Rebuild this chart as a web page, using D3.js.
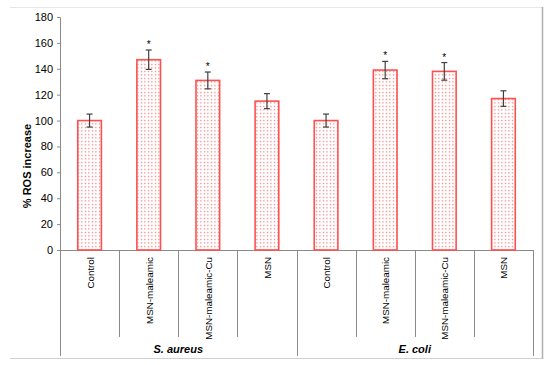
<!DOCTYPE html>
<html><head><meta charset="utf-8">
<script src="https://cdn.jsdelivr.net/npm/d3@7"></script>
<style>body{margin:0;background:#fff}svg{display:block}</style>
</head><body>
<svg id="c" width="550" height="365"></svg>
<script>
const categories = ["Control","MSN-maleamic","MSN-maleamic-Cu","MSN","Control","MSN-maleamic","MSN-maleamic-Cu","MSN"];
const groups = ["S. aureus","E. coli"];
const values = [100,147,131,115,100,139,138,117];
const errors = [5,7.5,6.5,5.8,5,6.7,6.8,6];
const significant = [false,true,true,false,false,true,true,false];
const yTicks = [0,20,40,60,80,100,120,140,160,180];

(function(){
const svg = d3.select("#c");
const mL=60,mR=533,mT=17,mB=250;

// pattern
const defs = svg.append("defs");
const pat = defs.append("pattern").attr("id","dots").attr("patternUnits","userSpaceOnUse")
  .attr("width",3.5).attr("height",3.5);
pat.append("rect").attr("width",3.5).attr("height",3.5).attr("fill","#fff");
pat.append("rect").attr("x",0.8).attr("y",0.8).attr("width",1.2).attr("height",1.2).attr("fill","#f26a6a");

// frame
svg.append("line").attr("x1",10).attr("x2",543).attr("y1",7.5).attr("y2",7.5).attr("stroke","#e6e6e6");
svg.append("line").attr("x1",10).attr("x2",543).attr("y1",358.5).attr("y2",358.5).attr("stroke","#d0d0d0");
svg.append("line").attr("x1",542.5).attr("x2",542.5).attr("y1",7).attr("y2",359).attr("stroke","#b0b0b0").attr("stroke-width",1.5);

const x = d3.scaleBand().domain(d3.range(categories.length)).range([mL,mR]).paddingInner(0).paddingOuter(0);
const y = d3.scaleLinear().domain([0,180]).range([mB,mT]);

// y axis
const ya = svg.append("g").attr("transform",`translate(${mL},0)`)
  .call(d3.axisLeft(y).tickValues(yTicks).tickSize(3).tickPadding(4));
ya.select(".domain").attr("stroke","#8a8a8a");
ya.selectAll(".tick line").attr("stroke","#8a8a8a");
ya.selectAll(".tick text").attr("font-family","Liberation Sans, Arial, sans-serif").attr("font-size",11).attr("fill","#000");

svg.append("text").attr("transform","translate(31,166) rotate(-90)")
  .attr("text-anchor","middle").attr("font-family","Liberation Sans, Arial, sans-serif")
  .attr("font-size",11).attr("font-weight","bold").text("% ROS increase");

// x axis line and separators
svg.append("line").attr("x1",mL).attr("x2",mR).attr("y1",mB+0.5).attr("y2",mB+0.5).attr("stroke","#8a8a8a");
categories.forEach((c,i)=>{
  const xs = x(i);
  const isGroup = (i%4===0);
  svg.append("line").attr("x1",Math.round(xs)+0.5).attr("x2",Math.round(xs)+0.5)
    .attr("y1",mB).attr("y2",isGroup?356:337).attr("stroke","#8a8a8a");
});
svg.append("line").attr("x1",mR+0.5).attr("x2",mR+0.5).attr("y1",mB).attr("y2",356).attr("stroke","#8a8a8a");

// category labels
svg.selectAll(".cl").data(categories).join("text").attr("class","cl")
  .attr("transform",(d,i)=>`translate(${x(i)+x.bandwidth()/2+4},257) rotate(-90)`)
  .attr("text-anchor","end").attr("font-family","Liberation Sans, Arial, sans-serif")
  .attr("font-size",9.8).attr("fill","#000").text(d=>d);

// group labels
groups.forEach((g,gi)=>{
  const x0 = x(gi*4), x1 = x(gi*4+3)+x.bandwidth();
  svg.append("text").attr("x",(x0+x1)/2).attr("y",353).attr("text-anchor","middle")
    .attr("font-family","Liberation Sans, Arial, sans-serif").attr("font-size",11)
    .attr("font-weight","bold").attr("font-style","italic").text(g);
});

// bars
const bw = x.bandwidth()*0.4;
svg.selectAll(".bar").data(values).join("rect").attr("class","bar")
  .attr("x",(d,i)=>x(i)+x.bandwidth()/2-bw/2).attr("width",bw)
  .attr("y",d=>y(d)).attr("height",d=>y(0)-y(d))
  .attr("fill","url(#dots)").attr("stroke","#ff5050").attr("stroke-width",1.6);

// error bars
const eg = svg.append("g").attr("stroke","#404040").attr("stroke-width",1.2);
values.forEach((v,i)=>{
  const cx = x(i)+x.bandwidth()/2;
  eg.append("line").attr("x1",cx).attr("x2",cx).attr("y1",y(v+errors[i])).attr("y2",y(v-errors[i]));
  eg.append("line").attr("x1",cx-3).attr("x2",cx+3).attr("y1",y(v+errors[i])).attr("y2",y(v+errors[i]));
  eg.append("line").attr("x1",cx-3).attr("x2",cx+3).attr("y1",y(v-errors[i])).attr("y2",y(v-errors[i]));
  if(significant[i]){
    svg.append("text").attr("x",cx).attr("y",y(v+errors[i])-2).attr("text-anchor","middle")
      .attr("font-family","Liberation Sans, Arial, sans-serif").attr("font-size",10).text("*");
  }
});
})();
</script>
</body></html>
